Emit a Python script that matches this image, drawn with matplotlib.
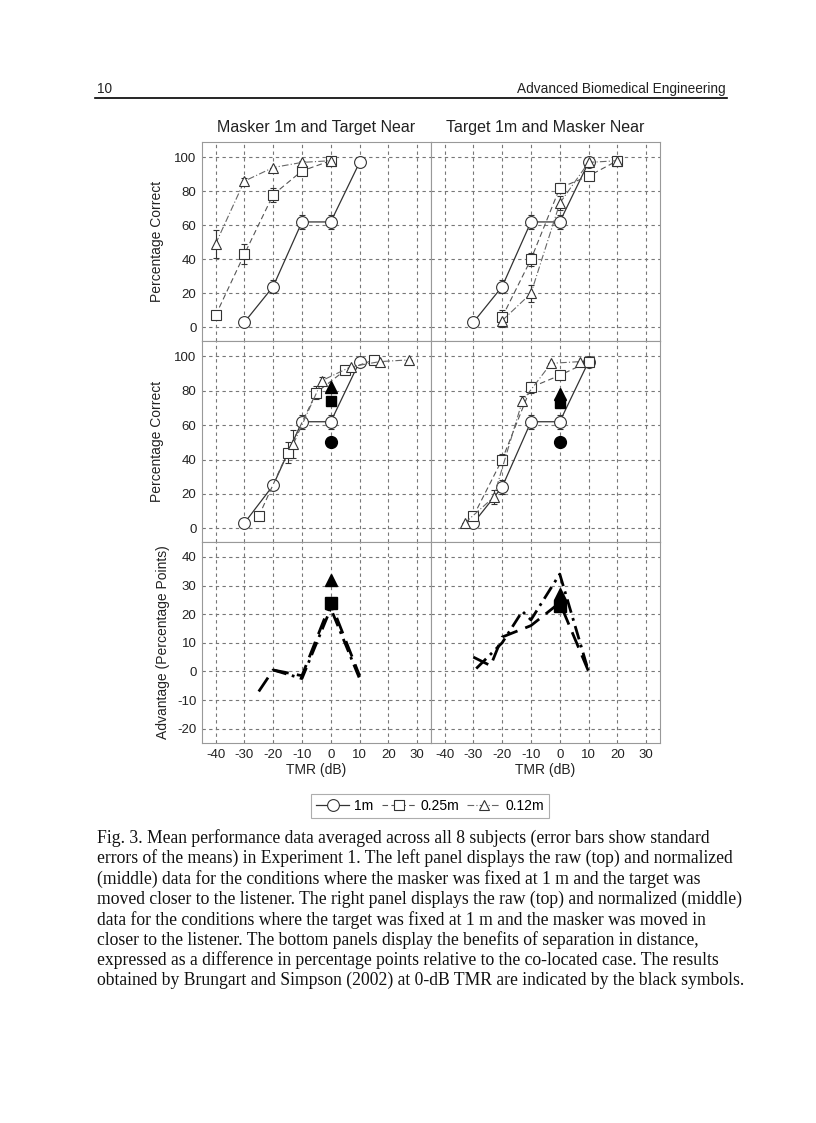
import numpy as np
import matplotlib
matplotlib.use("Agg")
import matplotlib.pyplot as plt
from matplotlib.lines import Line2D

plt.rcParams['font.family'] = ['Liberation Sans', 'DejaVu Sans']
plt.rcParams['axes.unicode_minus'] = False

# ---- data ----
# top left: raw, masker 1m / target near
tl_1m_x = [-30, -20, -10, 0, 10]
tl_1m_y = [3, 24, 62, 62, 97]
tl_1m_e = [0, 4, 4, 4, 0]
tl_25_x = [-40, -30, -20, -10, 0]
tl_25_y = [7, 43, 78, 92, 98]
tl_25_e = [0, 6, 4, 0, 0]
tl_12_x = [-40, -30, -20, -10, 0]
tl_12_y = [49, 86, 94, 97, 98]
tl_12_e = [8, 2, 0, 1, 1]

# top right: raw, target 1m / masker near
tr_1m_x = [-30, -20, -10, 0, 10]
tr_1m_y = [3, 24, 62, 62, 97]
tr_1m_e = [0, 4, 4, 4, 0]
tr_25_x = [-20, -10, 0, 10, 20]
tr_25_y = [6, 40, 82, 89, 98]
tr_25_e = [4, 4, 3, 2, 0]
tr_12_x = [-20, -10, 0, 10, 20]
tr_12_y = [4, 20, 73, 97, 98]
tr_12_e = [4, 5, 4, 0, 0]

# middle left: normalized
ml_1m_x = [-30, -20, -10, 0, 10]
ml_1m_y = [3, 25, 62, 62, 97]
ml_1m_e = [0, 3, 4, 4, 0]
ml_25_x = [-25, -15, -5, 5, 15]
ml_25_y = [7, 44, 79, 92, 98]
ml_25_e = [0, 6, 4, 0, 0]
ml_12_x = [-13, -3, 7, 17, 27]
ml_12_y = [49, 86, 94, 97, 98]
ml_12_e = [8, 2, 0, 0, 0]

# middle right: normalized
mr_1m_x = [-30, -20, -10, 0, 10]
mr_1m_y = [3, 24, 62, 62, 97]
mr_1m_e = [0, 4, 4, 4, 0]
mr_25_x = [-30, -20, -10, 0, 10]
mr_25_y = [7, 40, 82, 89, 97]
mr_25_e = [0, 3, 3, 2, 0]
mr_12_x = [-33, -23, -13, -3, 7]
mr_12_y = [3, 18, 74, 96, 97]
mr_12_e = [0, 4, 3, 0, 0]

# Brungart & Simpson (2002) at 0 dB: circle, square, triangle
bs_left = [50, 74, 82]
bs_right = [50, 73, 78]

# bottom: advantage
bl_25_x = [-25, -20, -10, 0, 10]
bl_25_y = [-7, 0.5, -1.5, 24, -1.5]
bl_12_x = [-20, -10, 0, 10]
bl_12_y = [0.5, -2.5, 22, -2.5]
br_25_x = [-30, -24, -20, -10, 0, 10]
br_25_y = [5, 2, 12, 16, 24, 0]
br_12_x = [-29, -20, -13, -10, 0, 10]
br_12_y = [1, 10, 21, 18, 34, 0]
bs_adv_left = [24, 32]   # square, triangle
bs_adv_right = [23, 27]

xticks = [-40, -30, -20, -10, 0, 10, 20, 30]
pct_ticks = [0, 20, 40, 60, 80, 100]
adv_ticks = [-20, -10, 0, 10, 20, 30, 40]

W, H = 816, 1123
fig = plt.figure(figsize=(W / 100, H / 100), dpi=100)

def px(x0, y0, x1, y1):
    return [x0 / W, 1 - y1 / H, (x1 - x0) / W, (y1 - y0) / H]

ax_tl = fig.add_axes(px(202, 142, 431, 341))
ax_tr = fig.add_axes(px(431, 142, 660, 341))
ax_ml = fig.add_axes(px(202, 341, 431, 542))
ax_mr = fig.add_axes(px(431, 341, 660, 542))
ax_bl = fig.add_axes(px(202, 542, 431, 743))
ax_br = fig.add_axes(px(431, 542, 660, 743))

for ax in [ax_tl, ax_tr, ax_ml, ax_mr, ax_bl, ax_br]:
    ax.set_xlim(-44.7, 34.8)
    ax.set_xticks(xticks)
    ax.grid(True, color='#777777', ls=(0, (3, 3)), lw=0.8)
    ax.set_axisbelow(True)
    ax.tick_params(length=0, labelsize=9.5, colors='#222222', pad=4)
    for s in ax.spines.values():
        s.set_color('#999999')
        s.set_linewidth(0.8)
for ax in [ax_tl, ax_tr, ax_ml, ax_mr]:
    ax.set_ylim(-8, 109)
    ax.set_yticks(pct_ticks)
    ax.set_xticklabels([])
for ax in [ax_bl, ax_br]:
    ax.set_ylim(-25, 45.2)
    ax.set_yticks(adv_ticks)
    ax.set_xticklabels([str(t) for t in xticks])
    ax.set_xlabel('TMR (dB)', fontsize=10, color='#222222', labelpad=2)
for ax in [ax_tr, ax_mr, ax_br]:
    ax.set_yticklabels([])

ax_tl.set_ylabel('Percentage Correct', fontsize=10, color='#222222', labelpad=7)
ax_ml.set_ylabel('Percentage Correct', fontsize=10, color='#222222', labelpad=7)
ax_bl.set_ylabel('Advantage (Percentage Points)', fontsize=10, color='#222222', labelpad=5)
ax_tl.set_title('Masker 1m and Target Near', fontsize=11.5, color='#222222', pad=7)
ax_tr.set_title('Target 1m and Masker Near', fontsize=11.5, color='#222222', pad=7)

sty_1m = dict(ls='-', color='#333333', lw=0.9, marker='o', ms=8.5)
sty_25 = dict(ls=(0, (5, 3)), color='#555555', lw=0.8, marker='s', ms=6.5)
sty_12 = dict(ls=(0, (6, 2, 1, 2)), color='#666666', lw=0.8, marker='^', ms=7.5)

def series(ax, x, y, e, sty):
    ax.errorbar(x, y, yerr=e, mfc='white', mec='#333333', mew=0.8,
                ecolor='#333333', elinewidth=0.8, capsize=2.5, capthick=0.8,
                zorder=3, **sty)

series(ax_tl, tl_1m_x, tl_1m_y, tl_1m_e, sty_1m)
series(ax_tl, tl_25_x, tl_25_y, tl_25_e, sty_25)
series(ax_tl, tl_12_x, tl_12_y, tl_12_e, sty_12)
series(ax_tr, tr_1m_x, tr_1m_y, tr_1m_e, sty_1m)
series(ax_tr, tr_25_x, tr_25_y, tr_25_e, sty_25)
series(ax_tr, tr_12_x, tr_12_y, tr_12_e, sty_12)
series(ax_ml, ml_1m_x, ml_1m_y, ml_1m_e, sty_1m)
series(ax_ml, ml_25_x, ml_25_y, ml_25_e, sty_25)
series(ax_ml, ml_12_x, ml_12_y, ml_12_e, sty_12)
series(ax_mr, mr_1m_x, mr_1m_y, mr_1m_e, sty_1m)
series(ax_mr, mr_25_x, mr_25_y, mr_25_e, sty_25)
series(ax_mr, mr_12_x, mr_12_y, mr_12_e, sty_12)

# black symbols from Brungart and Simpson
for ax, vals in [(ax_ml, bs_left), (ax_mr, bs_right)]:
    ax.plot(0, vals[0], 'o', color='black', ms=8.5, zorder=4)
    ax.plot(0, vals[1], 's', color='black', ms=7, zorder=4)
    ax.plot(0, vals[2], '^', color='black', ms=8.5, zorder=4)
for ax, vals in [(ax_bl, bs_adv_left), (ax_br, bs_adv_right)]:
    ax.plot(0, vals[0], 's', color='black', ms=8, zorder=4)
    ax.plot(0, vals[1], '^', color='black', ms=9, zorder=4)

# advantage lines
ax_bl.plot(bl_25_x, bl_25_y, color='black', lw=2, ls=(0, (6, 3)))
ax_bl.plot(bl_12_x, bl_12_y, color='black', lw=2, ls=(0, (5, 2, 1, 2)))
ax_br.plot(br_25_x, br_25_y, color='black', lw=2, ls=(0, (6, 3)))
ax_br.plot(br_12_x, br_12_y, color='black', lw=2, ls=(0, (5, 2, 1, 2)))

# legend
handles = [
    Line2D([], [], mfc='white', mec='#333333', mew=0.8, **sty_1m),
    Line2D([], [], mfc='white', mec='#333333', mew=0.8, **sty_25),
    Line2D([], [], mfc='white', mec='#333333', mew=0.8, **sty_12),
]
leg = fig.legend(handles, ['1m', '0.25m', '0.12m'], ncol=3, loc='center',
                 bbox_to_anchor=(430 / W, 1 - 806 / H), fontsize=10,
                 frameon=True, fancybox=False, edgecolor='#999999',
                 handlelength=2.4, handletextpad=0.35, columnspacing=0.6,
                 borderpad=0.35)
leg.get_frame().set_linewidth(0.8)

# page header
fig.text(97 / W, 1 - 89 / H, '10', fontsize=9.8, va='center', ha='left', color='#222222')
fig.text(726 / W, 1 - 89 / H, 'Advanced Biomedical Engineering', fontsize=9.8,
         va='center', ha='right', color='#222222')
fig.add_artist(Line2D([95 / W, 727 / W], [1 - 98 / H, 1 - 98 / H], color='black', lw=1.2))

caption = [
    "Fig. 3. Mean performance data averaged across all 8 subjects (error bars show standard",
    "errors of the means) in Experiment 1. The left panel displays the raw (top) and normalized",
    "(middle) data for the conditions where the masker was fixed at 1 m and the target was",
    "moved closer to the listener. The right panel displays the raw (top) and normalized (middle)",
    "data for the conditions where the target was fixed at 1 m and the masker was moved in",
    "closer to the listener. The bottom panels display the benefits of separation in distance,",
    "expressed as a difference in percentage points relative to the co-located case. The results",
    "obtained by Brungart and Simpson (2002) at 0-dB TMR are indicated by the black symbols.",
]
for i, line in enumerate(caption):
    fig.text(97 / W, 1 - (838 + i * 20.4) / H, line, fontsize=12.7,
             family='Liberation Serif', va='center', ha='left', color='#111111')

fig.savefig('out.png', dpi=100)
